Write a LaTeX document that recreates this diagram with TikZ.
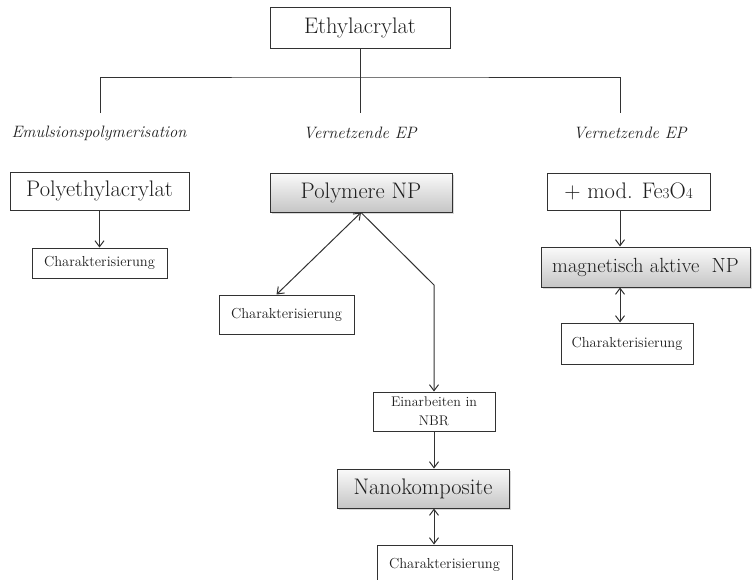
\documentclass[tikz,border=0pt]{standalone}
\usetikzlibrary{arrows.meta,shadows}
\definecolor{linegray}{RGB}{50,50,50}
\definecolor{textgray}{RGB}{30,30,30}
\begin{document}
\begin{tikzpicture}[x=1pt,y=-1pt,
	line width=1pt, draw=linegray, text=textgray,
	box/.style={draw=linegray, line width=1pt, fill=white, inner sep=0pt,
		minimum height=39pt, font=\fontsize{22.5}{26}\selectfont},
	shadebox/.style={box, top color=gray!4, bottom color=gray!45,
		drop shadow={shadow xshift=2pt, shadow yshift=-2pt, fill=gray!60}},
	charbox/.style={box, minimum width=135pt, font=\fontsize{14.5}{16}\selectfont},
	routelabel/.style={font=\fontsize{16.5}{18}\selectfont\itshape},
	tip/.style={-{Straight Barb[length=6pt,width=9pt]}},
	bitip/.style={{Straight Barb[length=6pt,width=9pt]}-{Straight Barb[length=6pt,width=9pt]}}]
	\useasboundingbox (0,0) rectangle (752,579);

	% top
	\node [box, minimum width=180pt, minimum height=41pt] (ethyl) at (360,27.5) {Ethylacrylat};
	\coordinate (split) at (360,77);
	\coordinate (lend) at (100,113);
	\coordinate (mend) at (360,113);
	\coordinate (rend) at (620,113);

	\node [routelabel] (emul) at (99,133) {Emulsionspolymerisation};
	\node [routelabel] (vern1) at (360,133) {Vernetzende EP};
	\node [routelabel] (vern2) at (630,133) {Vernetzende EP};

	% left branch
	\node [box, minimum width=179pt, minimum height=38pt] (pea) at (99.5,191) {Polyethylacrylat};
	\node [charbox, minimum height=30pt] (char1) at (99.5,263) {Charakterisierung};

	% middle branch
	\node [shadebox, minimum width=182pt] (pnp) at (361,192.5) {Polymere NP};
	\node [charbox] (char2) at (286.5,314.5) {Charakterisierung};
	\node [box, minimum width=122pt, align=center, font=\fontsize{14}{19}\selectfont] (ein) at (434,411.5) {Einarbeiten in\\NBR};
	\coordinate (bend) at (434,285);
	\node [shadebox, minimum width=172pt] (nano) at (423,488.5) {Nanokomposite};
	\node [charbox, minimum height=40pt] (char4) at (444.5,565) {Charakterisierung};

	% right branch
	\node [box, minimum width=163pt, minimum height=37pt] (fe) at (628.5,191.5) {+ mod. Fe{\fontsize{15}{16}\selectfont 3}O{\fontsize{15}{16}\selectfont 4}};
	\node [shadebox, minimum width=209pt, minimum height=40pt, font=\fontsize{20.5}{24}\selectfont] (mag) at (645.5,267) {magnetisch aktive\ \ NP};
	\node [charbox, minimum width=132pt, minimum height=41pt] (char3) at (627,343.5) {Charakterisierung};

	% connectors
	\draw (ethyl) -- (mend);
	\draw (lend) |- (split) -| (rend);
	\draw [tip] (pea) -- (char1);
	\draw [bitip] (pnp.south) -- ([xshift=-10pt]char2.north);
	\draw [tip] (pnp.south) -- (bend) -- (ein.north);
	\draw [tip] (ein) -- (ein |- nano.north);
	\draw [bitip] (nano.south -| ein) -- (ein |- char4.north);
	\draw [tip] (fe.south -| rend) -- (rend |- mag.north);
	\draw [bitip] (mag.south -| rend) -- (rend |- char3.north);
\end{tikzpicture}
\end{document}
